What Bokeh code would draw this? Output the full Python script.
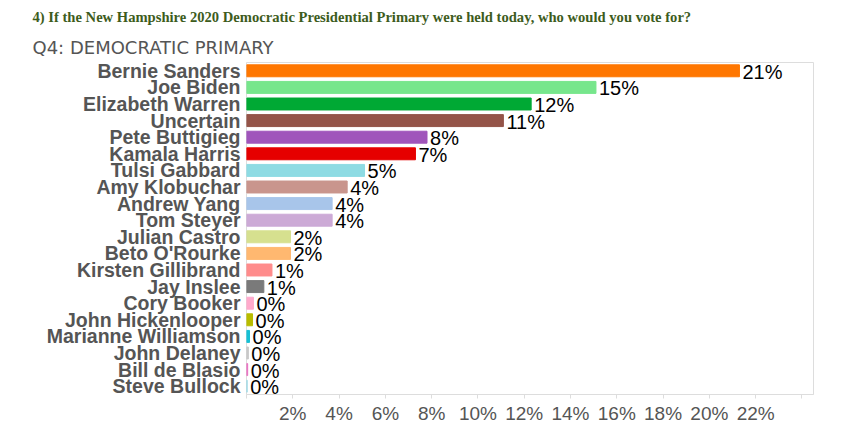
from bokeh.plotting import figure
from bokeh.models import ColumnDataSource, FactorRange, Range1d, FixedTicker, Title
from bokeh.core.properties import value
from bokeh.embed import file_html
from bokeh.resources import INLINE

candidates = ["Bernie Sanders", "Joe Biden", "Elizabeth Warren", "Uncertain", "Pete Buttigieg",
              "Kamala Harris", "Tulsi Gabbard", "Amy Klobuchar", "Andrew Yang", "Tom Steyer",
              "Julian Castro", "Beto O'Rourke", "Kirsten Gillibrand", "Jay Inslee", "Cory Booker",
              "John Hickenlooper", "Marianne Williamson", "John Delaney", "Bill de Blasio", "Steve Bullock"]
shares = [21.3, 15.1, 12.3, 11.1, 7.8, 7.3, 5.1, 4.35, 3.7, 3.7,
          1.9, 1.9, 1.1, 0.75, 0.3, 0.26, 0.13, 0.08, 0.05, 0.03]
share_labels = ["21%", "15%", "12%", "11%", "8%", "7%", "5%", "4%", "4%", "4%",
                "2%", "2%", "1%", "1%", "0%", "0%", "0%", "0%", "0%", "0%"]
bar_colors = ["#ff7700", "#77e68c", "#00a934", "#945448", "#a055bb", "#e60000", "#8edbe3",
              "#c9958d", "#a8c5ea", "#ccaad6", "#d6e08f", "#ffb870", "#ff8c8c", "#7a7a7a",
              "#ffaacc", "#b8bc00", "#17c0d4", "#c8c8c8", "#e870c0", "#9edae5"]
x_ticks = [0, 2, 4, 6, 8, 10, 12, 14, 16, 18, 20, 22, 24]
x_tick_labels = ["", "2%", "4%", "6%", "8%", "10%", "12%", "14%", "16%", "18%", "20%", "22%", ""]

question = "4) If the New Hampshire 2020 Democratic Presidential Primary were held today, who would you vote for?"
chart_title = "Q4: DEMOCRATIC PRIMARY"

source = ColumnDataSource(dict(cand=candidates, share=shares, label=share_labels, color=bar_colors))

p = figure(width=844, height=426, output_backend="svg", toolbar_location=None,
           y_range=FactorRange(factors=list(reversed(candidates))),
           x_range=Range1d(0, 24.5),
           min_border_left=246, min_border_right=31, min_border_top=62, min_border_bottom=32)

p.hbar(y="cand", right="share", left=0, height=0.72, color="color", source=source)
p.text(x="share", y="cand", text="label", source=source, x_offset=3, y_offset=1,
       text_baseline="middle", text_align="left", text_color="#000000",
       text_font=value("Liberation Sans"), text_font_size="20px")

p.add_layout(Title(text=chart_title, align="left", offset=-214, standoff=9,
                   text_font="DejaVu Sans", text_font_size="18px", text_font_style="normal",
                   text_color="#555555"), "above")
p.add_layout(Title(text=question, align="left", offset=-214, standoff=11,
                   text_font="Liberation Serif", text_font_size="14.6px", text_font_style="bold",
                   text_color="#3d5c1c"), "above")

p.xgrid.visible = False
p.ygrid.visible = False
p.outline_line_color = "#dddddd"
p.background_fill_color = "#ffffff"

xa = p.xaxis[0]
xa.ticker = FixedTicker(ticks=x_ticks)
xa.major_label_overrides = {t: l for t, l in zip(x_ticks, x_tick_labels)}
xa.axis_line_color = "#dddddd"
xa.major_tick_line_color = "#dddddd"
xa.major_tick_out = 4
xa.major_tick_in = 0
xa.minor_tick_line_color = None
xa.major_label_standoff = 4
xa.major_label_text_font = "Liberation Sans"
xa.major_label_text_font_size = "19px"
xa.major_label_text_color = "#555555"

ya = p.yaxis[0]
ya.axis_line_color = None
ya.major_tick_line_color = None
ya.minor_tick_line_color = None
ya.major_tick_out = 0
ya.major_label_standoff = 6
ya.major_label_text_font = "Liberation Sans"
ya.major_label_text_font_size = "19.5px"
ya.major_label_text_font_style = "bold"
ya.major_label_text_color = "#555555"

open("out.html", "w").write(file_html(p, INLINE))
